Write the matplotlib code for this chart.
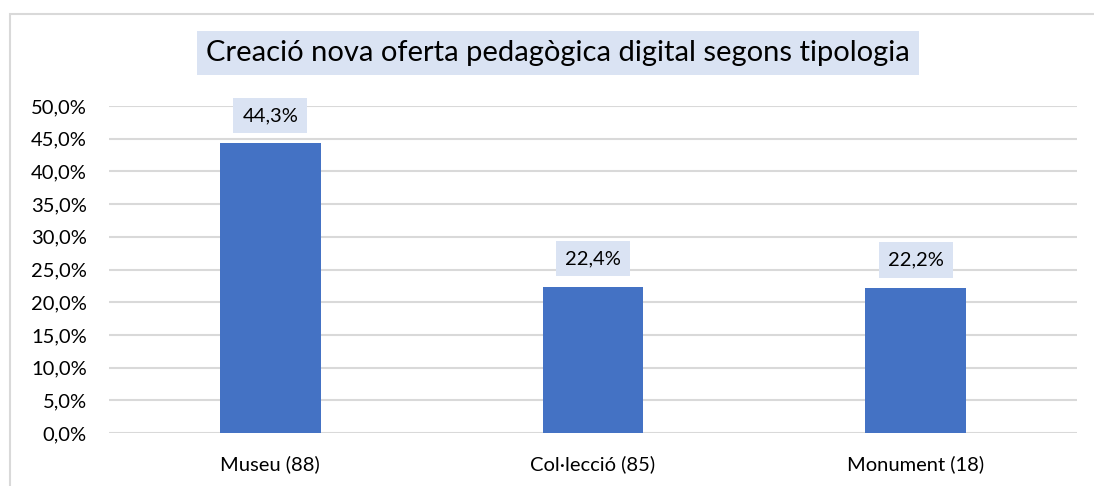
import matplotlib
matplotlib.use("Agg")
import matplotlib.pyplot as plt
from matplotlib.patches import Rectangle
from matplotlib.ticker import FuncFormatter, MultipleLocator

categories = ["Museu (88)", "Col·lecció (85)", "Monument (18)"]
values = [44.3, 22.4, 22.2]
title = "Creació nova oferta pedagògica digital segons tipologia"

plt.rcParams['font.family'] = ['Lato', 'DejaVu Sans']

W, H = 1094, 486
fig = plt.figure(figsize=(W/100, H/100), dpi=100)
ax = fig.add_axes([109/W, 1-433/H, (1077-109)/W, (433-106)/H])

# outer chart border
fig.patches.append(Rectangle((10/W, -0.1), 1.2, 1-14/H+0.1, transform=fig.transFigure,
                             fill=False, edgecolor='#D9D9D9', linewidth=1.5))

x = list(range(len(categories)))
bars = ax.bar(x, values, width=0.313, color='#4472C4', zorder=3)
ax.set_xlim(-0.5, len(categories)-0.5)
ax.set_ylim(0, 50)
ax.yaxis.set_major_locator(MultipleLocator(5))
ax.yaxis.set_major_formatter(FuncFormatter(lambda v, p: f"{v:.1f}%".replace('.', ',')))
ax.set_xticks(x)
ax.set_xticklabels(categories)
ax.grid(axis='y', color='#D9D9D9', linewidth=1.5, zorder=0)
for s in ax.spines.values():
    s.set_visible(False)
ax.tick_params(axis='y', length=0, pad=16, labelsize=14.5, colors='#000000')
ax.tick_params(axis='x', length=0, pad=16, labelsize=14.5, colors='#000000')

for xi, v in zip(x, values):
    ax.annotate(f"{v:.1f}%".replace('.', ','), (xi, v), xytext=(0, 20), textcoords='offset points',
                ha='center', va='center', fontsize=14.5,
                bbox=dict(boxstyle='square,pad=0.45', facecolor='#DAE3F3', edgecolor='none'))

fig.text(558/W, 1-53/H, title, ha='center', va='center', fontsize=21,
         bbox=dict(boxstyle='square,pad=0.3', facecolor='#DAE3F3', edgecolor='none'))

fig.savefig('out.png', dpi=100)
